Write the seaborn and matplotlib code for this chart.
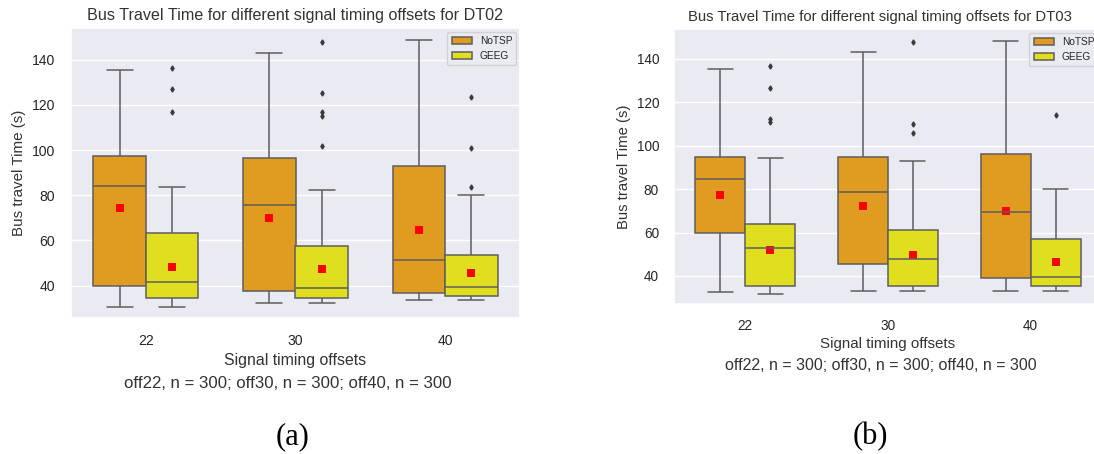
import numpy as np
import pandas as pd
import matplotlib
matplotlib.use("Agg")
import matplotlib.pyplot as plt
import seaborn as sns

# ---------------- data ----------------
offsets = ["22", "30", "40"]
methods = ["NoTSP", "GEEG"]

# DT02 (panel a)
dt02_notsp_lo = [30.6, 32.3, 33.5]
dt02_notsp_q1 = [40.0, 37.8, 36.6]
dt02_notsp_med = [84.1, 75.8, 51.4]
dt02_notsp_q3 = [97.2, 96.5, 93.1]
dt02_notsp_hi = [135.4, 143.1, 148.6]
dt02_notsp_out = [[], [], []]
dt02_notsp_mean = [74.5, 69.8, 64.5]

dt02_geeg_lo = [30.6, 32.3, 33.5]
dt02_geeg_q1 = [34.7, 34.7, 35.5]
dt02_geeg_med = [41.8, 38.8, 39.6]
dt02_geeg_q3 = [63.2, 57.7, 53.4]
dt02_geeg_hi = [83.5, 82.3, 80.0]
dt02_geeg_out = [[116.8, 127.0, 136.5],
                 [101.9, 114.9, 116.8, 125.1, 147.8],
                 [83.5, 100.8, 123.3]]
dt02_geeg_mean = [48.4, 47.2, 45.5]

# DT03 (panel b)
dt03_notsp_lo = [32.5, 33.3, 33.3]
dt03_notsp_q1 = [59.6, 45.5, 39.2]
dt03_notsp_med = [84.8, 78.8, 69.6]
dt03_notsp_q3 = [94.8, 94.8, 96.0]
dt03_notsp_hi = [135.2, 142.9, 148.3]
dt03_notsp_out = [[], [], []]
dt03_notsp_mean = [77.1, 72.4, 70.1]

dt03_geeg_lo = [31.9, 33.3, 33.3]
dt03_geeg_q1 = [35.6, 35.6, 35.6]
dt03_geeg_med = [53.0, 48.0, 39.7]
dt03_geeg_q3 = [64.1, 61.2, 57.0]
dt03_geeg_hi = [94.1, 93.1, 80.2]
dt03_geeg_out = [[111.0, 112.1, 126.5, 136.5],
                 [106.0, 110.1, 147.5],
                 [114.1]]
dt03_geeg_mean = [52.0, 49.5, 46.6]

sample_sizes = [300, 300, 300]


def sample_from_summary(lo, q1, med, q3, hi, out):
    """Sample whose quartiles / whiskers / fliers equal the given summary."""
    k = len(out)
    m = k + 1
    return [lo] + [q1] * m + [med] * m + [q3] * m + [hi] * (m - k) + list(out)


def build_frame(stats):
    rows = []
    for method, (lo, q1, med, q3, hi, out) in stats.items():
        for i, off in enumerate(offsets):
            for v in sample_from_summary(lo[i], q1[i], med[i], q3[i], hi[i], out[i]):
                rows.append({"offset": off, "method": method, "time": v})
    return pd.DataFrame(rows)


def build_means(means):
    rows = []
    for method, vals in means.items():
        for off, v in zip(offsets, vals):
            rows.append({"offset": off, "method": method, "mean": v})
    return pd.DataFrame(rows)


df02 = build_frame({
    "NoTSP": (dt02_notsp_lo, dt02_notsp_q1, dt02_notsp_med, dt02_notsp_q3, dt02_notsp_hi, dt02_notsp_out),
    "GEEG": (dt02_geeg_lo, dt02_geeg_q1, dt02_geeg_med, dt02_geeg_q3, dt02_geeg_hi, dt02_geeg_out),
})
df03 = build_frame({
    "NoTSP": (dt03_notsp_lo, dt03_notsp_q1, dt03_notsp_med, dt03_notsp_q3, dt03_notsp_hi, dt03_notsp_out),
    "GEEG": (dt03_geeg_lo, dt03_geeg_q1, dt03_geeg_med, dt03_geeg_q3, dt03_geeg_hi, dt03_geeg_out),
})
m02 = build_means({"NoTSP": dt02_notsp_mean, "GEEG": dt02_geeg_mean})
m03 = build_means({"NoTSP": dt03_notsp_mean, "GEEG": dt03_geeg_mean})

# ---------------- styling ----------------
sns.set_theme(style="darkgrid")
plt.rcParams["font.family"] = ["Liberation Sans", "DejaVu Sans"]

W, H = 1094, 454
fig = plt.figure(figsize=(W / 100, H / 100), dpi=100)
axL = fig.add_axes([71 / W, 1 - 318 / H, 449 / W, 290 / H])
axR = fig.add_axes([674 / W, 1 - 304 / H, 428 / W, 275 / H])

palette = ["orange", "yellow"]
n_text = "; ".join(f"off{o}, n = {n}" for o, n in zip(offsets, sample_sizes))


def draw(ax, df, mdf, title, ylim, fs):
    sns.boxplot(data=df, x="offset", y="time", hue="method", order=offsets,
                hue_order=methods, palette=palette, width=0.7, linewidth=1.1,
                linecolor="#5e5e5e",
                flierprops=dict(marker="d", markersize=2.6,
                                markerfacecolor="#3a3a3a", markeredgecolor="#3a3a3a"),
                ax=ax)
    sns.pointplot(data=mdf, x="offset", y="mean", hue="method", order=offsets,
                  hue_order=methods, palette=["red", "red"], dodge=0.35,
                  linestyle="none", markers="s", markersize=5.2, markeredgewidth=0,
                  errorbar=None, legend=False, ax=ax)
    ax.set_xlim(-0.5, 2.5)
    ax.set_ylim(*ylim)
    ax.set_yticks([40, 60, 80, 100, 120, 140])
    ax.tick_params(axis="both", labelsize=fs["tick"], pad=fs["pad"])
    ax.set_title(title, fontsize=fs["title"], pad=6, color="#333333", x=fs["tx"])
    ax.set_xlabel("Signal timing offsets", fontsize=fs["xlabel"], labelpad=fs["xlp"],
                  color="#333333")
    ax.set_ylabel("Bus travel Time (s)", fontsize=fs["ylabel"], labelpad=4, color="#333333")
    handles, labels = ax.get_legend_handles_labels()
    ax.legend(handles[:2], labels[:2], loc="upper right", fontsize=7.3,
              borderaxespad=0.35, handlelength=2.0, handleheight=0.7,
              framealpha=0.8)


draw(axL, df02, m02, "Bus Travel Time for different signal timing offsets for DT02",
     (25.7, 154.0), dict(tick=10.1, pad=5.6, title=11.6, xlabel=11.4, ylabel=10.9,
                         xlp=3.5, tx=0.5))
draw(axR, df03, m03, "Bus Travel Time for different signal timing offsets for DT03",
     (27.1, 153.7), dict(tick=9.8, pad=4.8, title=10.7, xlabel=10.9, ylabel=10.7,
                         xlp=2.8, tx=0.481))

fig.text(288 / W, 1 - 383 / H, n_text, ha="center", va="center", fontsize=12.1, color="#333333")
fig.text(881 / W, 1 - 365 / H, n_text, ha="center", va="center", fontsize=11.5, color="#333333")
fig.text(293 / W, 1 - 437 / H, "(a)", ha="center", va="center", fontsize=22,
         family=["Liberation Serif", "DejaVu Serif"], color="black")
fig.text(870 / W, 1 - 437 / H, "(b)", ha="center", va="center", fontsize=22,
         family=["Liberation Serif", "DejaVu Serif"], color="black")

fig.savefig("out.png", dpi=100, facecolor="white")
